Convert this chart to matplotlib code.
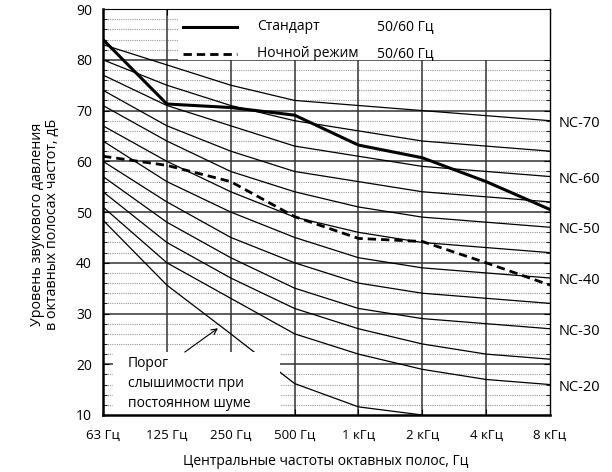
import matplotlib
matplotlib.use("Agg")
import matplotlib.pyplot as plt
from matplotlib.patches import Rectangle
from matplotlib.lines import Line2D

plt.rcParams['font.family'] = ['Open Sans', 'DejaVu Sans']

# ---- data ----
freq_labels = ["63 Гц", "125 Гц", "250 Гц", "500 Гц", "1 кГц", "2 кГц", "4 кГц", "8 кГц"]
nc_names = ["NC-70", "NC-65", "NC-60", "NC-55", "NC-50", "NC-45", "NC-40",
            "NC-35", "NC-30", "NC-25", "NC-20"]
nc_values = [
    [83, 79, 75, 72, 71, 70, 69, 68],
    [80, 75, 71, 68, 66, 64, 63, 62],
    [77, 71, 67, 63, 61, 59, 58, 57],
    [74, 67, 62, 58, 56, 54, 53, 52],
    [71, 64, 58, 54, 51, 49, 48, 47],
    [67, 60, 54, 49, 46, 44, 43, 42],
    [64, 56, 50, 45, 41, 39, 38, 37],
    [60, 52, 45, 40, 36, 34, 33, 32],
    [57, 48, 41, 35, 31, 29, 28, 27],
    [54, 44, 37, 31, 27, 24, 22, 21],
    [51, 40, 33, 26, 22, 19, 17, 16],
]
nc_labelled = ["NC-70", "NC-60", "NC-50", "NC-40", "NC-30", "NC-20"]
threshold = [48.4, 35.6, 26.0, 16.2, 11.6, 10.0]
standard = [84, 71.3, 70.6, 69.1, 63.2, 60.7, 56.0, 50.5]
night = [61, 59.2, 56.0, 49.1, 44.8, 44.2, 40.0, 35.6]
legend_labels = ["Стандарт", "Ночной режим"]
legend_freq = "50/60 Гц"
annotation = "Порог\nслышимости при\nпостоянном шуме"
y_ticks = [10, 20, 30, 40, 50, 60, 70, 80, 90]

x = list(range(len(freq_labels)))

fig = plt.figure(figsize=(6.12, 4.72), dpi=100)
ax = fig.add_axes([103/612, 1-415/472, 447/612, (415-9.1)/472])
ax.set_xlim(0, 7)
ax.set_ylim(10, 90)

# grid
for v in range(12, 90, 2):
    if v % 10:
        ax.axhline(v, color='#999999', lw=0.8, ls=(0, (1, 1)), zorder=1)
for v in y_ticks[1:-1]:
    ax.axhline(v, color='#333333', lw=1.1, zorder=1.1)
for xi in x[1:-1]:
    ax.axvline(xi, color='#333333', lw=1.1, zorder=1.1)

# NC curves
for name, vals in zip(nc_names, nc_values):
    ax.plot(x, vals, color='black', lw=0.9, zorder=1.5)
    if name in nc_labelled:
        ax.annotate(name, xy=(x[-1], vals[-1] - 0.5), xytext=(6, 0),
                    textcoords='offset points', ha='left', va='center',
                    fontsize=10.5, annotation_clip=False)
ax.plot(x[:len(threshold)], threshold, color='black', lw=0.9, zorder=1.5)

# white boxes
ax.add_patch(Rectangle((0.168, 0.875), 0.832, 0.125, transform=ax.transAxes,
                       facecolor='white', edgecolor='none', zorder=2))
ax.add_patch(Rectangle((0.0224, 0.0), 0.3736, 0.155, transform=ax.transAxes,
                       facecolor='white', edgecolor='none', zorder=2))

# data lines
ax.plot(x, standard, color='black', lw=2.2, zorder=3, solid_joinstyle='miter')
ax.plot(x, night, color='black', lw=2.0, ls=(0, (3, 1.8)), zorder=3)

# legend
ax.add_line(Line2D([0.179, 0.300], [0.957, 0.957], transform=ax.transAxes,
                   color='black', lw=2.2, zorder=4))
ax.add_line(Line2D([0.179, 0.300], [0.890, 0.890], transform=ax.transAxes,
                   color='black', lw=2.0, ls=(0, (3, 1.8)), zorder=4))
for yy, lab in zip([0.957, 0.890], legend_labels):
    ax.text(0.345, yy, lab, transform=ax.transAxes, ha='left', va='center',
            fontsize=10, zorder=4)
    ax.text(0.612, yy, legend_freq, transform=ax.transAxes, ha='left',
            va='center', fontsize=10, zorder=4)

# annotation
ax.text(0.056, 0.078, annotation, transform=ax.transAxes, ha='left',
        va='center', fontsize=10, linespacing=1.45, zorder=4)
ax.annotate('', xy=(1.80, 27.1), xytext=(1.28, 22.4),
            arrowprops=dict(arrowstyle='->', color='black', lw=0.8,
                            shrinkA=0, shrinkB=0), zorder=4)

# axes styling
ax.set_xticks(x)
ax.set_xticklabels(freq_labels, fontsize=9.5)
ax.set_yticks(y_ticks)
ax.set_yticklabels([str(v) for v in y_ticks], fontsize=10)
ax.set_yticks(range(12, 90, 2), minor=True)
ax.tick_params(axis='both', direction='in', length=4, width=0.8,
               top=True, right=True)
ax.tick_params(axis='y', which='minor', direction='in', length=3, width=0.6,
               right=True)
ax.tick_params(axis='x', pad=10)
ax.tick_params(axis='y', pad=8)
ax.spines['left'].set_linewidth(1.8)
ax.spines['bottom'].set_linewidth(1.8)
ax.spines['right'].set_linewidth(1.0)
ax.spines['top'].set_linewidth(0.8)

fig.text(45/612, 1-224/472, "Уровень звукового давления\nв октавных полосах частот, дБ",
         rotation=90, ha='center', va='center', fontsize=10.3, linespacing=1.05)
fig.text(326/612, 1-461.7/472, "Центральные частоты октавных полос, Гц",
         ha='center', va='center', fontsize=10)

fig.savefig("out.png", dpi=100)
